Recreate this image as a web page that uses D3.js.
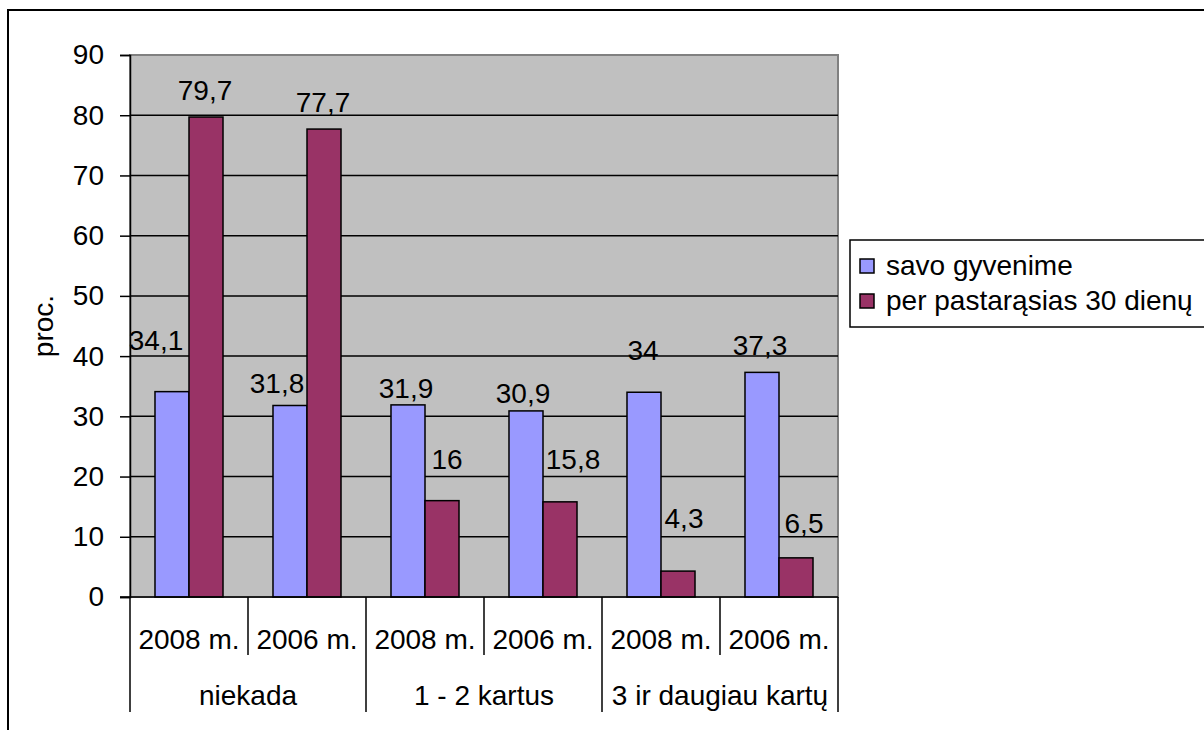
<!DOCTYPE html>
<html>
<head>
<meta charset="utf-8">
<script src="https://cdn.jsdelivr.net/npm/d3@7"></script>
<style>
  body { margin: 0; background: #fff; }
  text { font-family: "Liberation Sans", Arial, sans-serif; fill: #000; }
</style>
</head>
<body>
<div id="chart"></div>
<script>
const years = ['2008 m.', '2006 m.', '2008 m.', '2006 m.', '2008 m.', '2006 m.']
const groups = ['niekada', '1 - 2 kartus', '3 ir daugiau kartų']
const seriesNames = ['savo gyvenime', 'per pastarąsias 30 dienų']
const lifetime = [34.1, 31.8, 31.9, 30.9, 34, 37.3]
const last30 = [79.7, 77.7, 16, 15.8, 4.3, 6.5]
const yTicks = [0, 10, 20, 30, 40, 50, 60, 70, 80, 90]

// label nudges (px) the way excel left them
const labelDx = [[-16, -13, -2, -3, -1, -2], [-1, -1, 5, 13, 6, 8]]
const labelDy = [[42, 12, 7, 8, 32, 17], [17, 17, 32, 33, 43, 25]]

const w = 1204, h = 730
const plot = { left: 130, top: 55, right: 838, bottom: 597 }
const colors = ['#9999ff', '#993366']
const fs = 28

const fmt = d3.formatLocale({ decimal: ',', thousands: '.', grouping: [3], currency: ['', ''] }).format('~r')

let svg = d3.select('#chart').append('svg')
  .attr('width', w)
  .attr('height', h)

// outer frame
svg.append('rect')
  .attr('x', 8).attr('y', 10)
  .attr('width', w).attr('height', h)
  .attr('fill', 'none').attr('stroke', '#000').attr('stroke-width', 2)

let x = d3.scaleBand()
  .domain(d3.range(years.length))
  .range([plot.left, plot.right])

// 34px bars with 25px either side
let x1 = d3.scaleBand()
  .domain([0, 1])
  .range([0, x.bandwidth()])
  .paddingOuter(0.735)

let y = d3.scaleLinear()
  .domain([0, 90])
  .range([plot.bottom, plot.top])

// plot area
svg.append('rect')
  .attr('x', plot.left).attr('y', plot.top)
  .attr('width', plot.right - plot.left).attr('height', plot.bottom - plot.top)
  .attr('fill', '#c0c0c0')
  .attr('stroke', '#808080').attr('stroke-width', 2)

// gridlines
svg.append('g')
  .selectAll('line')
  .data(yTicks.filter(d => d > 0 && d < 90))
  .enter()
  .append('line')
  .attr('x1', plot.left).attr('x2', plot.right)
  .attr('y1', d => y(d)).attr('y2', d => y(d))
  .attr('stroke', '#000').attr('stroke-width', 1.5)

// bars
const series = [lifetime, last30]
series.forEach((vals, s) => {
  svg.append('g')
    .selectAll('rect')
    .data(vals)
    .enter()
    .append('rect')
    .attr('x', (d, i) => x(i) + x1(s))
    .attr('y', d => y(d))
    .attr('width', x1.bandwidth())
    .attr('height', d => y(0) - y(d))
    .attr('fill', colors[s])
    .attr('stroke', '#000').attr('stroke-width', 1.5)

  svg.append('g')
    .selectAll('text')
    .data(vals)
    .enter()
    .append('text')
    .attr('x', (d, i) => x(i) + x1(s) + x1.bandwidth() / 2 + labelDx[s][i])
    .attr('y', (d, i) => y(d) - labelDy[s][i])
    .attr('text-anchor', 'middle')
    .style('font-size', fs + 'px')
    .text(d => fmt(d))
})

// y axis
let yAxis = svg.append('g')
  .attr('transform', `translate(${plot.left},0)`)
  .call(d3.axisLeft(y).tickValues(yTicks).tickSize(10).tickPadding(16).tickFormat(d3.format('d')))
yAxis.select('.domain').attr('stroke', '#000').attr('stroke-width', 1.5)
yAxis.selectAll('.tick line').attr('stroke', '#000').attr('stroke-width', 1.5)
yAxis.selectAll('.tick text')
  .style('font-size', fs + 'px')
  .style('font-family', '"Liberation Sans", Arial, sans-serif')
  .attr('fill', '#000')

svg.append('text')
  .attr('transform', `translate(53,${(plot.top + plot.bottom) / 2}) rotate(-90)`)
  .attr('text-anchor', 'middle')
  .style('font-size', fs + 'px')
  .text('proc.')

// x axis, two levels
svg.append('line')
  .attr('x1', plot.left - 10).attr('x2', plot.right)
  .attr('y1', plot.bottom).attr('y2', plot.bottom)
  .attr('stroke', '#000').attr('stroke-width', 1.5)

let bounds = d3.range(years.length + 1)
svg.append('g')
  .selectAll('line')
  .data(bounds)
  .enter()
  .append('line')
  .attr('x1', i => i < years.length ? x(i) : plot.right)
  .attr('x2', i => i < years.length ? x(i) : plot.right)
  .attr('y1', plot.bottom)
  .attr('y2', i => i % 2 === 0 ? 712 : 655)
  .attr('stroke', '#000').attr('stroke-width', 1.5)

svg.append('g')
  .selectAll('text')
  .data(years)
  .enter()
  .append('text')
  .attr('x', (d, i) => x(i) + x.bandwidth() / 2)
  .attr('y', 649)
  .attr('text-anchor', 'middle')
  .style('font-size', fs + 'px')
  .text(d => d)

svg.append('g')
  .selectAll('text')
  .data(groups)
  .enter()
  .append('text')
  .attr('x', (d, i) => x(i * 2) + x.bandwidth())
  .attr('y', 705)
  .attr('text-anchor', 'middle')
  .style('font-size', fs + 'px')
  .text(d => d)

// legend
let legend = svg.append('g')
legend.append('rect')
  .attr('x', 850).attr('y', 240)
  .attr('width', 360).attr('height', 87)
  .attr('fill', '#fff').attr('stroke', '#000').attr('stroke-width', 1.5)

seriesNames.forEach((name, i) => {
  legend.append('rect')
    .attr('x', 860).attr('y', 259 + i * 35)
    .attr('width', 14).attr('height', 14)
    .attr('fill', colors[i])
    .attr('stroke', '#000').attr('stroke-width', 1.5)
  legend.append('text')
    .attr('x', 886).attr('y', 275 + i * 35)
    .style('font-size', fs + 'px')
    .text(name)
})
</script>
</body>
</html>
